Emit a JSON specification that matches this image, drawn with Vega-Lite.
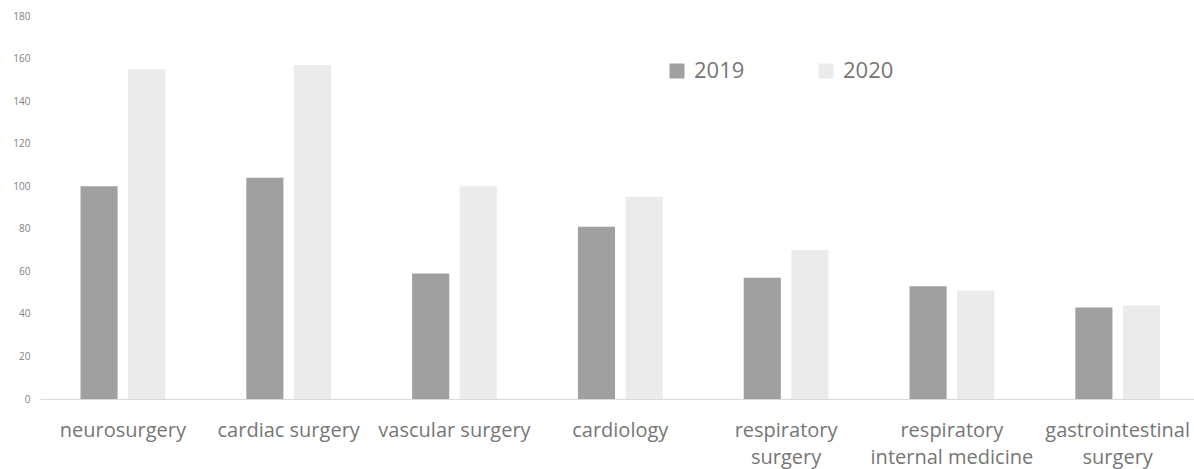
{
  "$schema": "https://vega.github.io/schema/vega-lite/v6.json",
  "autosize": {"type": "none"},
  "width": 1154,
  "height": 383,
  "padding": {"left": 40, "top": 16, "right": 0, "bottom": 70},
  "background": "white",
  "config": {"view": {"stroke": null}},
  "data": {"values": [
    {"dept": "neurosurgery", "year": "2019", "value": 100},
    {"dept": "neurosurgery", "year": "2020", "value": 155},
    {"dept": "cardiac surgery", "year": "2019", "value": 104},
    {"dept": "cardiac surgery", "year": "2020", "value": 157},
    {"dept": "vascular surgery", "year": "2019", "value": 59},
    {"dept": "vascular surgery", "year": "2020", "value": 100},
    {"dept": "cardiology", "year": "2019", "value": 81},
    {"dept": "cardiology", "year": "2020", "value": 95},
    {"dept": "respiratory surgery", "year": "2019", "value": 57},
    {"dept": "respiratory surgery", "year": "2020", "value": 70},
    {"dept": "respiratory internal medicine", "year": "2019", "value": 53},
    {"dept": "respiratory internal medicine", "year": "2020", "value": 51},
    {"dept": "gastrointestinal surgery", "year": "2019", "value": 43},
    {"dept": "gastrointestinal surgery", "year": "2020", "value": 44}
  ]},
  "mark": {"type": "bar"},
  "encoding": {
    "x": {
      "field": "dept", "type": "nominal", "sort": null,
      "scale": {"paddingInner": 0.489, "paddingOuter": 0.2245, "align": 0.544},
      "axis": {
        "title": null, "labelAngle": 0, "ticks": false,
        "domainColor": "#d9d9d9", "domainWidth": 1,
        "labelFont": "Open Sans", "labelFontSize": 20, "labelColor": "#767676",
        "labelPadding": 21, "labelLineHeight": 27, "labelLimit": 300,
        "labelExpr": "datum.label == 'respiratory surgery' ? ['respiratory', 'surgery'] : datum.label == 'respiratory internal medicine' ? ['respiratory', 'internal medicine'] : datum.label == 'gastrointestinal surgery' ? ['gastrointestinal', 'surgery'] : datum.label"
      }
    },
    "xOffset": {"field": "year", "type": "nominal", "scale": {"paddingInner": 0.22}},
    "y": {
      "field": "value", "type": "quantitative",
      "scale": {"domain": [0, 180], "nice": false},
      "axis": {
        "title": null, "values": [0, 20, 40, 60, 80, 100, 120, 140, 160, 180],
        "grid": false, "domain": false, "ticks": false,
        "labelFont": "Open Sans", "labelFontSize": 10, "labelColor": "#808080",
        "labelPadding": 10
      }
    },
    "color": {
      "field": "year", "type": "nominal",
      "scale": {"domain": ["2019", "2020"], "range": ["#a0a0a0", "#ebebeb"]},
      "legend": {
        "title": null, "orient": "none", "legendX": 626, "legendY": 44,
        "direction": "horizontal", "columns": 2, "columnPadding": 70,
        "symbolType": "square", "symbolSize": 225, "symbolStrokeWidth": 0,
        "labelFont": "Open Sans", "labelFontSize": 22, "labelColor": "#767676",
        "labelOffset": 6
      }
    }
  }
}
